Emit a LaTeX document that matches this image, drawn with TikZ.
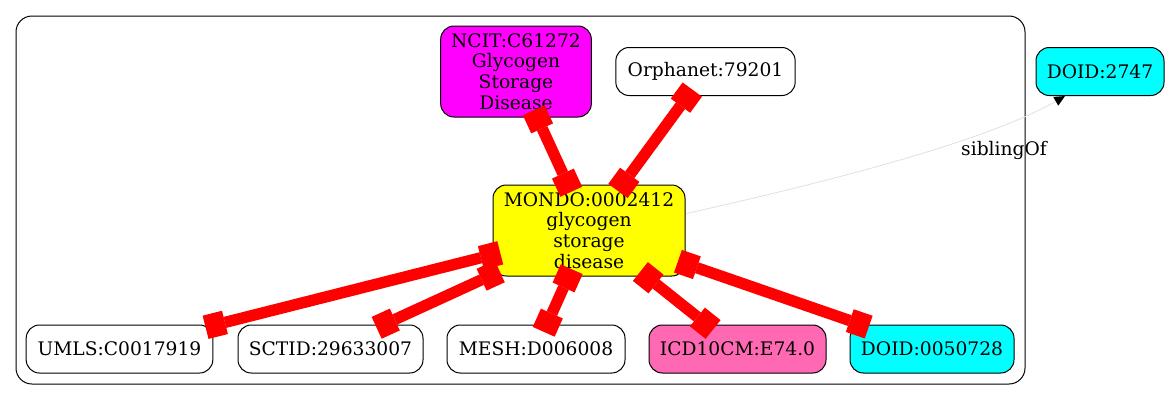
\documentclass[tikz,border=0pt]{standalone}
\usepackage{fontspec}
\setmainfont{DejaVu Serif}
\usetikzlibrary{arrows.meta,calc}
\definecolor{ncitfill}{HTML}{FF00FF}
\definecolor{mondofill}{HTML}{FFFF00}
\definecolor{doidfill}{HTML}{00FFFF}
\definecolor{icdfill}{HTML}{FF69B4}
\definecolor{siblingline}{HTML}{E0E0E0}

\begin{document}
\begin{tikzpicture}[x=0.75pt,y=-0.75pt,
		font=\fontsize{14}{15.5}\selectfont,
		term/.style={draw=black,line width=0.75pt,rounded corners=10pt,
			align=center,inner sep=0pt,minimum height=36pt},
		xref/.style={draw=red,line width=8.5pt,shorten <=-6pt,shorten >=-6pt,
			{Rectangle[width=18pt,length=15pt,line width=0pt]}-{Rectangle[width=18pt,length=15pt,line width=0pt]}},
		sibling/.style={draw=siblingline,line width=0.6pt,
			-{Triangle[length=8pt,width=7.5pt,line width=0pt,color=black]}}]
			\useasboundingbox (0,0) rectangle (1169,400);
			% outline
			\draw[line width=0.75pt,rounded corners=12pt] (16,16) rectangle (1025,384);
			% upper terms
			\node[term,fill=ncitfill,minimum width=113pt,minimum height=68.25pt] (ncit) at (516,71.5)
				{NCIT:C61272\\Glycogen\\Storage\\Disease};
			\node[term,fill=white,minimum width=134.5pt] (orphanet) at (705.5,71.5) {Orphanet:79201};
			\node[term,fill=doidfill,minimum width=96pt] (doidsib) at (1100,71.5) {DOID:2747};
			\node[term,fill=mondofill,minimum width=144pt,minimum height=68.25pt] (mondo) at (589,230.5)
				{MONDO:0002412\\glycogen\\storage\\disease};
			% lower row
			\node[term,fill=white,minimum width=140pt] (umls) at (119.5,349) {UMLS:C0017919};
			\node[term,fill=white,minimum width=138.75pt] (sctid) at (330.5,349) {SCTID:29633007};
			\node[term,fill=white,minimum width=133.5pt] (mesh) at (536,349) {MESH:D006008};
			\node[term,fill=icdfill,minimum width=132.75pt] (icd) at (737.5,349) {ICD10CM:E74.0};
			\node[term,fill=doidfill,minimum width=123pt] (doid) at (932,349) {DOID:0050728};
			% equivalences
			\draw[xref] (ncit) -- (mondo);
			\draw[xref] (orphanet) -- (mondo);
			\draw[xref] (mondo) -- (umls);
			\draw[xref] (mondo) -- (sctid);
			\draw[xref] (mondo) -- (mesh);
			\draw[xref] (mondo) -- (icd);
			\draw[xref] (mondo) -- (doid);
			% sibling link
			\draw[sibling] ($(mondo.east)+(1,-17)$) .. controls (800,188) and (980,145) .. ($(doidsib.south)+(-35,0)$);
			\node (siblab) at (1004,150) {siblingOf};
		\end{tikzpicture}
\end{document}
